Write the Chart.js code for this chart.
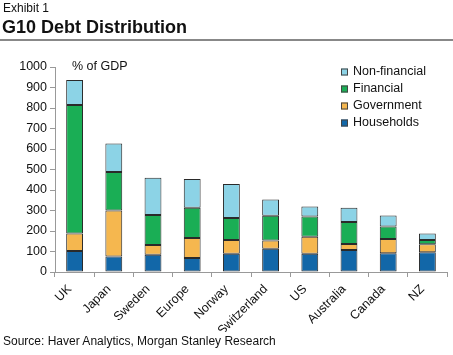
<!DOCTYPE html>
<html>
<head>
<meta charset="utf-8">
<script src="https://cdn.jsdelivr.net/npm/chart.js@4/dist/chart.umd.min.js"></script>
<style>
html,body{margin:0;padding:0;background:#fff;}
#wrap{position:relative;width:453px;height:355px;overflow:hidden;font-family:"Liberation Sans",Arial,sans-serif;color:#111;}
#c{position:absolute;left:0;top:0;}
.t{position:absolute;white-space:nowrap;}
</style>
</head>
<body>
<div id="wrap">
<canvas id="c" width="453" height="355"></canvas>
<div class="t" style="left:3px;top:1px;font-size:12px;">Exhibit 1</div>
<div class="t" style="left:2px;top:17px;font-size:18px;font-weight:bold;">G10 Debt Distribution</div>
<div style="position:absolute;left:0;top:39px;width:453px;height:1.5px;background:#888;"></div>
<div class="t" style="left:72px;top:59px;font-size:12.5px;">% of GDP</div>
<div class="t" style="left:3px;top:334px;font-size:12px;">Source: Haver Analytics, Morgan Stanley Research</div>
</div>
<script>
const categories = ["UK","Japan","Sweden","Europe","Norway","Switzerland","US","Australia","Canada","NZ"];
const households = [102, 76, 84, 68, 89, 114, 89, 107, 91, 96];
const government = [86, 224, 48, 98, 67, 40, 83, 30, 70, 39];
const financial = [627, 188, 146, 148, 107, 121, 99, 107, 61, 21];
const nonFinancial = [122, 139, 182, 140, 166, 79, 49, 70, 54, 32];
const yTicks = [0,100,200,300,400,500,600,700,800,900,1000];

const FONT = '"Liberation Sans", Arial, sans-serif';

const legendPlugin = {
  id: 'floatLegend',
  afterDraw(chart) {
    const ctx = chart.ctx;
    const ds = chart.data.datasets.slice().reverse();
    ctx.save();
    ctx.font = '12.5px ' + FONT;
    ctx.textBaseline = 'middle';
    ds.forEach((d, i) => {
      const y = 72 + i * 17;
      ctx.fillStyle = d.backgroundColor;
      ctx.fillRect(341, y - 3.5, 7, 7);
      ctx.strokeStyle = '#444';
      ctx.lineWidth = 1;
      ctx.strokeRect(341.5, y - 3, 6, 6);
      ctx.fillStyle = '#111';
      ctx.fillText(d.label, 353, y);
    });
    ctx.restore();
  }
};

new Chart(document.getElementById('c'), {
  type: 'bar',
  data: {
    labels: categories,
    datasets: [
      {label: 'Households', data: households, backgroundColor: '#1267a8'},
      {label: 'Government', data: government, backgroundColor: '#f5b74f'},
      {label: 'Financial', data: financial, backgroundColor: '#1aae55'},
      {label: 'Non-financial', data: nonFinancial, backgroundColor: '#8cd3e6'}
    ].map(d => Object.assign(d, {borderColor: '#2a2a2a', borderWidth: 1, borderSkipped: false, categoryPercentage: 1, barPercentage: 0.43}))
  },
  options: {
    responsive: false,
    animation: false,
    devicePixelRatio: 1,
    layout: {padding: {left: 0, right: 6, top: 67, bottom: 23}},
    plugins: {legend: {display: false}, tooltip: {enabled: false}},
    scales: {
      x: {
        stacked: true,
        afterFit(s) { s.height = 60; },
        border: {color: '#999', width: 1},
        grid: {display: true, offset: true, drawOnChartArea: false, drawTicks: true, tickLength: 5, color: '#999'},
        ticks: {minRotation: 45, maxRotation: 45, autoSkip: false, color: '#111', font: {family: FONT, size: 12.5}, padding: 0,
                callback(v, i) { return this.getLabelForValue(v) + '  '; }}
      },
      y: {
        stacked: true,
        min: 0, max: 1000,
        afterFit(s) { s.width = 55; },
        afterBuildTicks(s) { s.ticks = yTicks.map(v => ({value: v})); },
        border: {color: '#999', width: 1},
        grid: {display: true, drawOnChartArea: false, drawTicks: true, tickLength: 5, color: '#999'},
        ticks: {color: '#111', font: {family: FONT, size: 12.5}, padding: 3, callback: v => String(v)}
      }
    }
  },
  plugins: [legendPlugin]
});
</script>
</body>
</html>
